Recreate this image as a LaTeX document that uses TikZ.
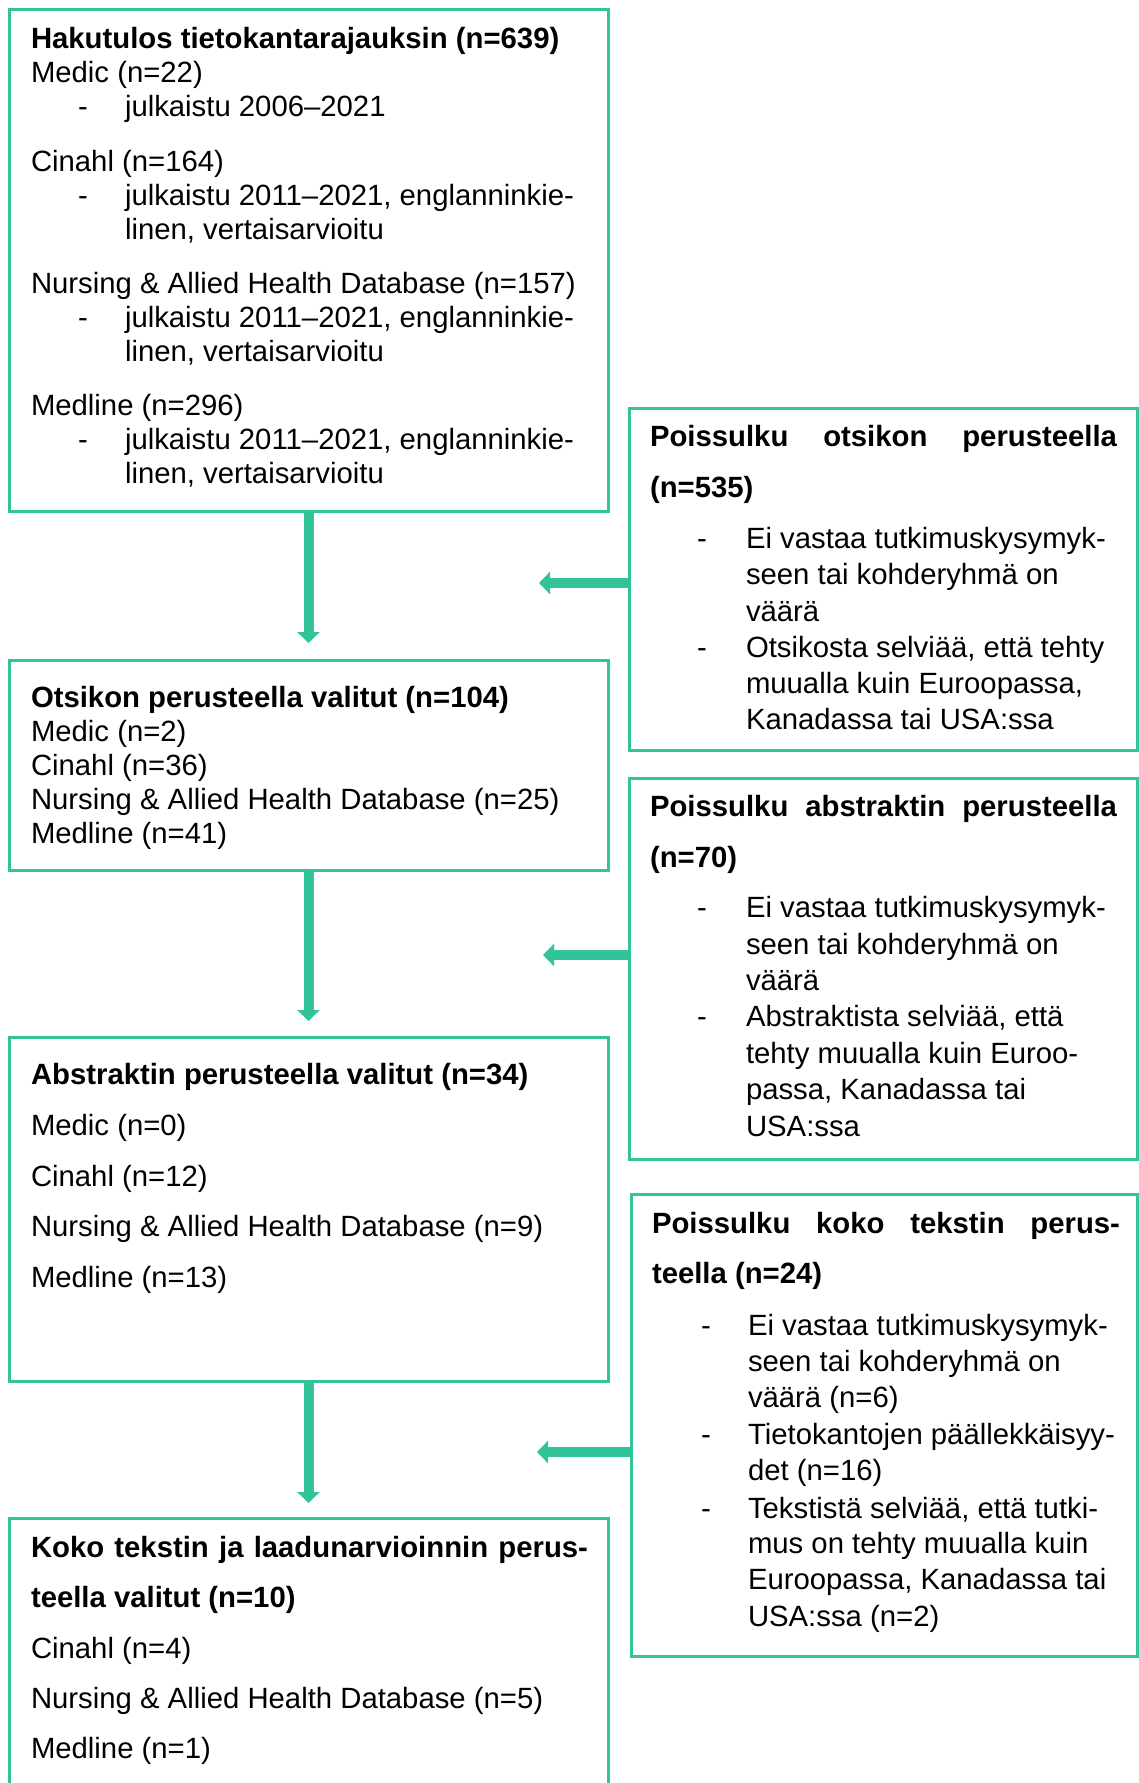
\documentclass[tikz,border=0pt]{standalone}
\usepackage{fontspec}
\setmainfont{Liberation Sans}
\usetikzlibrary{arrows.meta}
\definecolor{teal1}{RGB}{50,196,152}
\begin{document}
\begin{tikzpicture}[x=1pt,y=-1pt,
  box/.style={draw=teal1, line width=3pt, inner sep=0pt, outer sep=0pt, anchor=north west},
  tx/.style={anchor=base west, inner sep=0pt, outer sep=0pt, font=\fontsize{29.3}{34}\selectfont},
  tb/.style={anchor=base west, inner sep=0pt, outer sep=0pt, font=\fontsize{29.3}{34}\selectfont\bfseries},
  dsh/.style={anchor=base, inner sep=0pt, outer sep=0pt, font=\fontsize{29.3}{34}\selectfont},
  arr/.style={draw=teal1, fill=teal1, line width=10pt, -{Triangle[width=22pt,length=11pt]}}]
\useasboundingbox (0,0) rectangle (1139,1783);
\clip (0,0) rectangle (1139,1783);

% boxes
\node[box, minimum width=599pt, minimum height=502pt] (b1) at (9,9) {};
\node[box, minimum width=599pt, minimum height=210pt] (b2) at (9,660) {};
\node[box, minimum width=599pt, minimum height=344pt] (b3) at (9,1037) {};
\node[box, minimum width=599pt, minimum height=300pt] (b4) at (9,1518) {};
\node[box, minimum width=508pt, minimum height=342pt] (r1) at (629,408) {};
\node[box, minimum width=508pt, minimum height=381pt] (r2) at (629,778) {};
\node[box, minimum width=506pt, minimum height=462pt] (r3) at (631,1194) {};

% connectors
\draw[arr, shorten >=17pt] (b1.south) -- (b2.north);
\draw[arr, shorten >=16pt] (b2.south) -- (b3.north);
\draw[arr, shorten >=15pt] (b3.south) -- (b4.north);
\coordinate (h1) at (539,583);
\coordinate (h2) at (543,955);
\coordinate (h3) at (537,1452);
\draw[arr] (r1.west |- h1) -- (h1);
\draw[arr] (r2.west |- h2) -- (h2);
\draw[arr] (r3.west |- h3) -- (h3);

% box 1 text
\node[tb] (t1a) at (31,48) {Hakutulos tietokantarajauksin (n=639)};
\node[tx] (t1b) at (31,82) {Medic (n=22)};
\node[dsh] (d1a) at (83,116) {-};
\node[tx] (t1c) at (125,116) {julkaistu 2006–2021};
\node[tx] (t1d) at (31,171) {Cinahl (n=164)};
\node[dsh] (d1b) at (83,205) {-};
\node[tx] (t1e) at (125,205) {julkaistu 2011–2021, englanninkie-};
\node[tx] (t1f) at (125,239) {linen, vertaisarvioitu};
\node[tx] (t1g) at (31,293) {Nursing \& Allied Health Database (n=157)};
\node[dsh] (d1c) at (83,327) {-};
\node[tx] (t1h) at (125,327) {julkaistu 2011–2021, englanninkie-};
\node[tx] (t1i) at (125,361) {linen, vertaisarvioitu};
\node[tx] (t1j) at (31,415) {Medline (n=296)};
\node[dsh] (d1d) at (83,449) {-};
\node[tx] (t1k) at (125,449) {julkaistu 2011–2021, englanninkie-};
\node[tx] (t1l) at (125,483) {linen, vertaisarvioitu};

% box 2 text
\node[tb] (t2a) at (31,707) {Otsikon perusteella valitut (n=104)};
\node[tx] (t2b) at (31,741) {Medic (n=2)};
\node[tx] (t2c) at (31,775) {Cinahl (n=36)};
\node[tx] (t2d) at (31,809) {Nursing \& Allied Health Database (n=25)};
\node[tx] (t2e) at (31,843) {Medline (n=41)};

% box 3 text
\node[tb] (t3a) at (31,1084) {Abstraktin perusteella valitut (n=34)};
\node[tx] (t3b) at (31,1135) {Medic (n=0)};
\node[tx] (t3c) at (31,1186) {Cinahl (n=12)};
\node[tx] (t3d) at (31,1236) {Nursing \& Allied Health Database (n=9)};
\node[tx] (t3e) at (31,1287) {Medline (n=13)};

% box 4 text
\node[tb] (t4a) at (31,1557) {\makebox[557pt][s]{Koko tekstin ja laadunarvioinnin perus-}};
\node[tb] (t4b) at (31,1607) {teella valitut (n=10)};
\node[tx] (t4c) at (31,1658) {Cinahl (n=4)};
\node[tx] (t4d) at (31,1708) {Nursing \& Allied Health Database (n=5)};
\node[tx] (t4e) at (31,1758) {Medline (n=1)};

% right box 1 text
\node[tb] (s1a) at (650,446) {\makebox[467pt][s]{Poissulku otsikon perusteella}};
\node[tb] (s1b) at (650,497) {(n=535)};
\node[dsh] (e1a) at (702,548) {-};
\node[tx] (s1c) at (746,548) {Ei vastaa tutkimuskysymyk-};
\node[tx] (s1d) at (746,584) {seen tai kohderyhmä on};
\node[tx] (s1e) at (746,621) {väärä};
\node[dsh] (e1b) at (702,657) {-};
\node[tx] (s1f) at (746,657) {Otsikosta selviää, että tehty};
\node[tx] (s1g) at (746,693) {muualla kuin Euroopassa,};
\node[tx] (s1h) at (746,729) {Kanadassa tai USA:ssa};

% right box 2 text
\node[tb] (s2a) at (650,816) {\makebox[467pt][s]{Poissulku abstraktin perusteella}};
\node[tb] (s2b) at (650,867) {(n=70)};
\node[dsh] (e2a) at (702,917) {-};
\node[tx] (s2c) at (746,917) {Ei vastaa tutkimuskysymyk-};
\node[tx] (s2d) at (746,954) {seen tai kohderyhmä on};
\node[tx] (s2e) at (746,990) {väärä};
\node[dsh] (e2b) at (702,1026) {-};
\node[tx] (s2f) at (746,1026) {Abstraktista selviää, että};
\node[tx] (s2g) at (746,1063) {tehty muualla kuin Euroo-};
\node[tx] (s2h) at (746,1099) {passa, Kanadassa tai};
\node[tx] (s2i) at (746,1136) {USA:ssa};

% right box 3 text
\node[tb] (s3a) at (652,1233) {\makebox[468pt][s]{Poissulku koko tekstin perus-}};
\node[tb] (s3b) at (652,1283) {teella (n=24)};
\node[dsh] (e3a) at (706,1335) {-};
\node[tx] (s3c) at (748,1335) {Ei vastaa tutkimuskysymyk-};
\node[tx] (s3d) at (748,1371) {seen tai kohderyhmä on};
\node[tx] (s3e) at (748,1407) {väärä (n=6)};
\node[dsh] (e3b) at (706,1444) {-};
\node[tx] (s3f) at (748,1444) {Tietokantojen päällekkäisyy-};
\node[tx] (s3g) at (748,1480) {det (n=16)};
\node[dsh] (e3c) at (706,1518) {-};
\node[tx] (s3h) at (748,1518) {Tekstistä selviää, että tutki-};
\node[tx] (s3i) at (748,1553) {mus on tehty muualla kuin};
\node[tx] (s3j) at (748,1589) {Euroopassa, Kanadassa tai};
\node[tx] (s3k) at (748,1626) {USA:ssa (n=2)};
\end{tikzpicture}
\end{document}
